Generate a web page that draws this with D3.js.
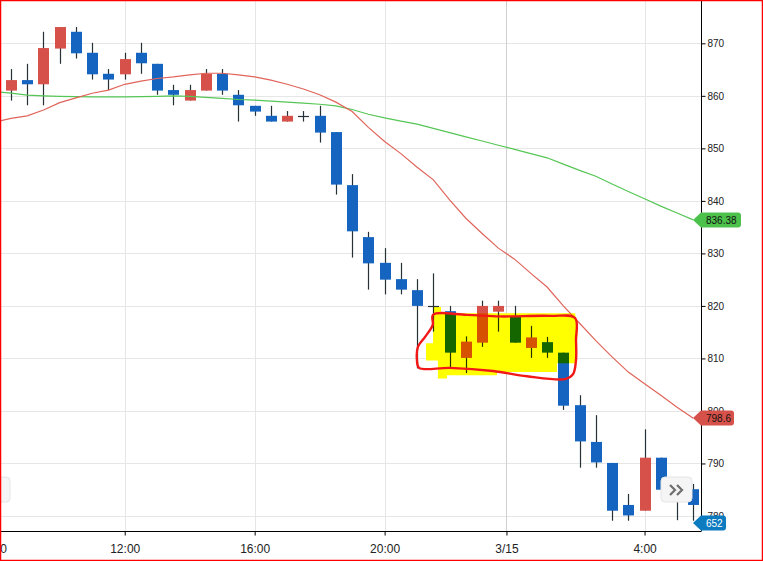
<!DOCTYPE html>
<html>
<head>
<meta charset="utf-8">
<script src="https://cdn.jsdelivr.net/npm/d3@7"></script>
<style>
    html, body { margin: 0; padding: 0; background: #fff; }
    svg { display: block; font-family: "Liberation Sans", Arial, sans-serif; }
</style>
</head>
<body>
<div id="chart"></div>
<script>
// 30 min candles, index 0 = first visible bar
const opens  = [861.0, 863.0, 862.2, 869.0, 872.2, 868.2, 864.2, 864.1, 868.2, 866.1, 861.1, 859.1, 861.0, 864.2, 860.2, 858.1, 856.2, 855.1, 856.2, 856.2, 853.1, 843.0, 833.1, 828.2, 825.1, 823.0, 820.0, 819.0, 810.1, 813.0, 818.9, 818.1, 812.0, 813.1, 811.1, 801.1, 794.1, 790.1, 782.1, 781.0, 791.1, 786.0, 785.1]
const closes = [863.0, 862.2, 869.1, 873.1, 868.1, 864.1, 863.1, 867.0, 866.2, 861.0, 860.2, 861.1, 864.2, 861.0, 858.2, 857.0, 855.1, 856.2, 856.2, 853.0, 843.1, 834.2, 828.1, 825.0, 823.1, 820.0, 820.0, 811.1, 813.2, 820.0, 820.0, 813.0, 814.0, 811.1, 801.0, 794.2, 790.2, 781.0, 780.1, 791.1, 785.0, 783.0, 782.1]
const highs  = [865.1, 866.1, 872.2, 873.1, 873.1, 870.1, 865.1, 868.2, 870.1, 866.1, 862.1, 862.1, 865.1, 865.1, 861.1, 858.1, 858.1, 857.1, 857.1, 858.1, 853.1, 845.1, 834.1, 831.0, 828.2, 825.1, 826.2, 820.0, 814.2, 821.0, 821.0, 820.0, 816.2, 814.1, 811.1, 803.0, 799.2, 790.1, 784.2, 796.5, 791.1, 787.0, 786.1]
const lows   = [859.1, 858.2, 858.2, 866.1, 867.1, 863.1, 861.1, 863.1, 864.2, 860.2, 858.2, 859.1, 861.0, 860.2, 855.1, 856.2, 855.1, 855.1, 855.1, 851.1, 841.2, 829.2, 823.1, 822.2, 822.2, 808.1, 815.1, 808.3, 807.2, 812.2, 815.1, 813.0, 810.1, 810.1, 800.2, 789.2, 789.2, 779.1, 779.1, 781.0, 785.0, 779.2, 779.1]

// moving averages start one bar before the first visible candle
const maStart = -1
const maRed   = [855.0, 855.7, 856.2, 857.3, 858.7, 859.6, 860.5, 861.1, 862.2, 862.8, 863.3, 863.6, 864.0, 864.3, 864.3, 864.0, 863.6, 863.0, 862.2, 861.3, 860.2, 858.8, 857.0, 854.0, 851.3, 849.0, 846.4, 844.0, 840.2, 836.7, 833.8, 831.0, 828.9, 826.2, 823.6, 820.0, 816.7, 813.4, 810.3, 807.4, 805.2, 803.0, 800.7, 798.6]
const maGreen = [860.8, 860.5, 860.15, 860.0, 859.9, 859.85, 859.8, 859.8, 859.8, 859.85, 859.9, 860.0, 859.9, 859.7, 859.5, 859.3, 859.2, 859.0, 858.8, 858.6, 858.4, 858.1, 857.4, 856.5, 855.8, 855.2, 854.6, 853.8, 853.0, 852.2, 851.4, 850.6, 849.8, 849.0, 848.2, 847.0, 845.8, 844.7, 843.2, 841.8, 840.4, 839.0, 837.7, 836.38]

const timeTickIdx    = [-1, 7, 15, 23, 30.5, 39]
const timeTickLabels = ["8:00", "12:00", "16:00", "20:00", "3/15", "4:00"]
const priceTicks     = [780, 790, 800, 810, 820, 830, 840, 850, 860, 870]

// price tag at the bottom of the axis
const lastTagLabel = "652"
const lastTagPrice = 778.6

// hand drawn highlight, in (bar index, price)
const markerIdx   = [25.98, 26.47, 26.47, 34.72, 34.9, 34.72, 33.61, 33.61, 29.92, 29.92, 26.84, 26.84, 26.28, 26.28, 25.55, 25.55, 25.98]
const markerPrice = [819.8, 819.8, 818.6, 818.6, 815.4, 809.1, 809.1, 807.4, 807.4, 806.8, 806.8, 806.2, 806.2, 809.6, 809.6, 812.9, 812.9]
const loopIdx   = [25.98, 25.96, 25.49, 25.05, 24.99, 25.12, 27.02, 29.67, 31.76, 34.16, 34.6, 34.78, 34.78, 34.72, 33.18, 30.1, 28.07]
const loopPrice = [818.3, 816.4, 814.1, 812.2, 809.7, 808.2, 808.2, 807.6, 806.6, 806.1, 807.0, 809.7, 813.5, 817.7, 818.1, 818.0, 818.3]

const width = 763, height = 561
const plotW = 701, plotH = 531

const x = d3.scaleLinear().domain([-0.677, 42.475]).range([0, plotW])
const y = d3.scaleLinear().domain([777.14, 878.25]).range([plotH, 0])

const upColor = '#d6514a', downColor = '#1565c0', wickColor = '#263238'
const bodyW = 11

const svg = d3.select('#chart').append('svg')
    .attr('width', width)
    .attr('height', height)

svg.append('defs').append('clipPath').attr('id', 'plot-clip')
    .append('rect').attr('x', 0).attr('y', 0).attr('width', plotW).attr('height', plotH)

// grid
const grid = svg.append('g')
grid.selectAll('line.h')
    .data(priceTicks)
    .join('line')
    .attr('x1', 0).attr('x2', plotW)
    .attr('y1', d => Math.round(y(d)) + 0.5)
    .attr('y2', d => Math.round(y(d)) + 0.5)
    .attr('stroke', '#e6e6e6')
grid.selectAll('line.v')
    .data(timeTickIdx)
    .join('line')
    .attr('x1', d => Math.round(x(d)) + 0.5)
    .attr('x2', d => Math.round(x(d)) + 0.5)
    .attr('y1', 0).attr('y2', plotH)
    .attr('stroke', (d, i) => timeTickLabels[i].includes('/') ? '#cfcfcf' : '#e6e6e6')

const plot = svg.append('g').attr('clip-path', 'url(#plot-clip)')

// candles
const candles = plot.append('g')
    .selectAll('g')
    .data(opens.map((o, i) => ({i, o, c: closes[i], h: highs[i], l: lows[i]})))
    .join('g')

candles.append('line')
    .attr('x1', d => Math.round(x(d.i)) + 0.5)
    .attr('x2', d => Math.round(x(d.i)) + 0.5)
    .attr('y1', d => y(d.h))
    .attr('y2', d => y(d.l))
    .attr('stroke', wickColor)
    .attr('stroke-width', 1.2)

candles.filter(d => d.o !== d.c)
    .append('rect')
    .attr('x', d => Math.round(x(d.i)) + 0.5 - bodyW / 2)
    .attr('width', bodyW)
    .attr('y', d => y(Math.max(d.o, d.c)))
    .attr('height', d => Math.max(1, Math.abs(y(d.o) - y(d.c))))
    .attr('fill', d => d.c > d.o ? upColor : downColor)

candles.filter(d => d.o === d.c)
    .append('line')
    .attr('x1', d => Math.round(x(d.i)) + 0.5 - bodyW / 2)
    .attr('x2', d => Math.round(x(d.i)) + 0.5 + bodyW / 2)
    .attr('y1', d => Math.round(y(d.o)) + 0.5)
    .attr('y2', d => Math.round(y(d.o)) + 0.5)
    .attr('stroke', wickColor)
    .attr('stroke-width', 1.2)

// moving averages
const maLine = d3.line()
    .x((d, i) => x(i + maStart))
    .y(d => y(d))

plot.append('path')
    .datum(maGreen)
    .attr('d', maLine)
    .attr('fill', 'none')
    .attr('stroke', '#55c655')
    .attr('stroke-width', 1.2)

plot.append('path')
    .datum(maRed)
    .attr('d', maLine)
    .attr('fill', 'none')
    .attr('stroke', '#e0645a')
    .attr('stroke-width', 1.2)

// yellow marker + red loop
plot.append('path')
    .datum(markerIdx.map((v, i) => [v, markerPrice[i]]))
    .attr('d', d3.line().x(d => x(d[0])).y(d => y(d[1])).curve(d3.curveLinearClosed))
    .attr('fill', '#ffff00')
    .style('mix-blend-mode', 'multiply')

plot.append('path')
    .datum(loopIdx.map((v, i) => [v, loopPrice[i]]))
    .attr('d', d3.line().x(d => x(d[0])).y(d => y(d[1])).curve(d3.curveCatmullRomClosed))
    .attr('fill', 'none')
    .attr('stroke', '#f21818')
    .attr('stroke-width', 2.4)

// axes
const yAxis = svg.append('g')
    .attr('transform', `translate(${plotW + 0.5},0)`)
    .call(d3.axisRight(y).tickValues(priceTicks).tickSize(4).tickFormat(d3.format('d')))
yAxis.select('.domain').attr('d', `M0,0V${plotH}`).attr('stroke', '#000')
yAxis.selectAll('.tick line').attr('stroke', '#000')
yAxis.selectAll('.tick text')
    .attr('x', 6)
    .style('font-size', '10px')
    .style('font-family', '"Liberation Sans", Arial, sans-serif')
    .attr('fill', '#222')

const xAxis = svg.append('g')
    .attr('transform', `translate(0,${plotH + 0.5})`)
    .call(d3.axisBottom(x).tickValues(timeTickIdx).tickSize(4).tickFormat((d, i) => timeTickLabels[i]))
xAxis.select('.domain').attr('d', `M0,0H${plotW + 0.5}`).attr('stroke', '#000')
xAxis.selectAll('.tick line').attr('stroke', '#000')
xAxis.selectAll('.tick text')
    .attr('y', 13)
    .style('font-size', '12px')
    .style('font-family', '"Liberation Sans", Arial, sans-serif')
    .attr('fill', '#222')

// price tags on the axis
const tags = [
    {price: maGreen[maGreen.length - 1], label: String(maGreen[maGreen.length - 1]), fill: '#4cc24c', text: '#111', w: 40},
    {price: maRed[maRed.length - 1], label: String(maRed[maRed.length - 1]), fill: '#d6514a', text: '#111', w: 33},
    {price: lastTagPrice, label: lastTagLabel, fill: '#0d7bc0', text: '#fff', w: 25}
]
const tagG = svg.append('g')
    .selectAll('g')
    .data(tags)
    .join('g')
    .attr('transform', d => `translate(${plotW},${Math.round(y(d.price))})`)

tagG.append('path')
    .attr('d', d => `M-8,0L0,-7.5H${d.w - 3}Q${d.w},-7.5 ${d.w},-4.5V4.5Q${d.w},7.5 ${d.w - 3},7.5H0Z`)
    .attr('fill', d => d.fill)

tagG.append('text')
    .attr('x', 5)
    .attr('dy', '0.35em')
    .style('font-size', '10px')
    .attr('fill', d => d.text)
    .text(d => d.label)

// scroll buttons
const btns = svg.append('g')
const btnData = [{x0: 661, chevrons: true}, {x0: -21, chevrons: false}]
btns.selectAll('rect')
    .data(btnData)
    .join('rect')
    .attr('x', d => d.x0)
    .attr('y', 477)
    .attr('width', 31)
    .attr('height', 25)
    .attr('rx', 4)
    .attr('fill', '#f5f5f5')
    .attr('stroke', '#e4e4e4')
btns.append('path')
    .attr('d', 'M670,485L675,490L670,495M677,485L682,490L677,495')
    .attr('fill', 'none')
    .attr('stroke', '#6f6f6f')
    .attr('stroke-width', 2.2)

// red frame round the shot
svg.append('rect')
    .attr('x', 0.5).attr('y', 0.5)
    .attr('width', width - 1).attr('height', height - 1)
    .attr('fill', 'none')
    .attr('stroke', '#ff0000')
    .attr('stroke-width', 1.5)
</script>
</body>
</html>
